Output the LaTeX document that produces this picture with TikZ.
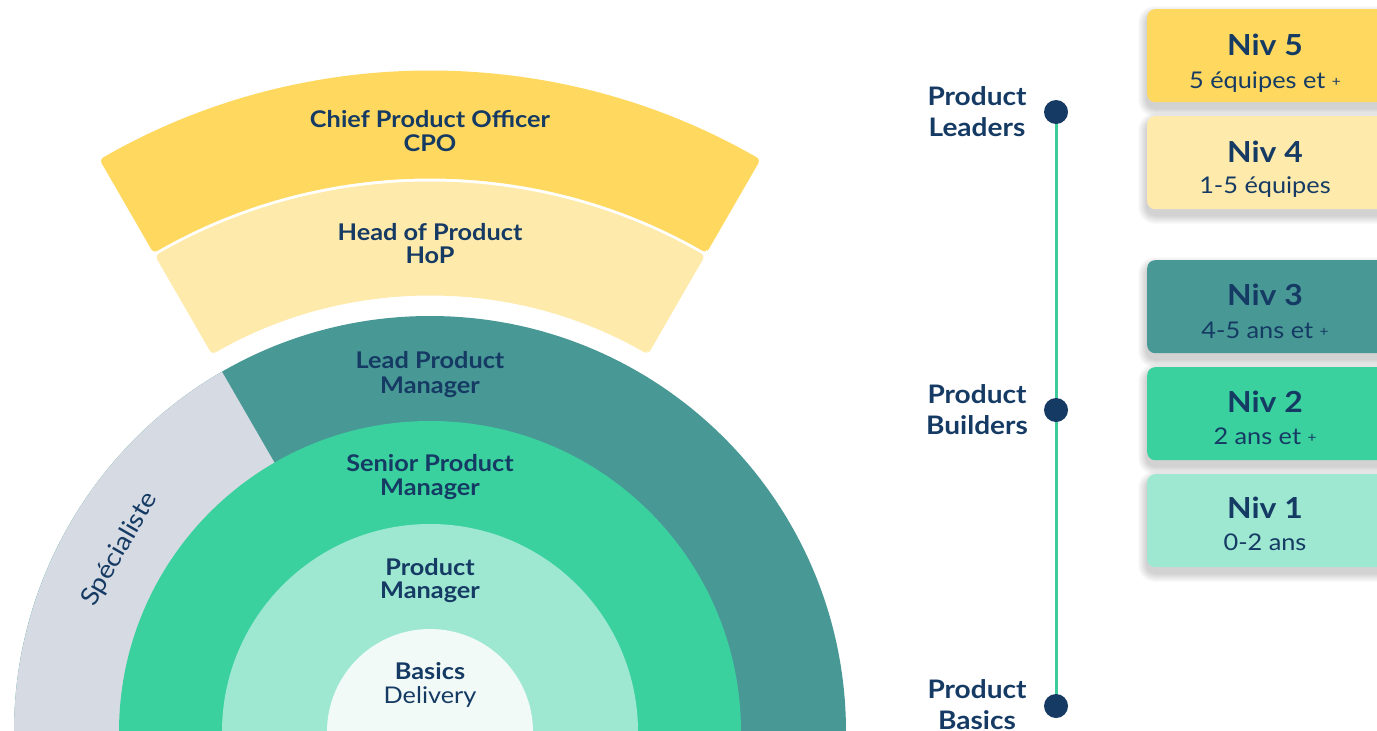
\documentclass[tikz,border=0pt]{standalone}
\usepackage{fontspec}
\setmainfont{Lato}[FakeStretch=1.1]
\definecolor{navy}{HTML}{153A63}
\definecolor{cpo}{HTML}{FFD95F}
\definecolor{hop}{HTML}{FEEAAB}
\definecolor{lead}{HTML}{489896}
\definecolor{senior}{HTML}{3AD19F}
\definecolor{pm}{HTML}{9EE8D2}
\definecolor{basics}{HTML}{F1FAF7}
\definecolor{spec}{HTML}{D6DBE3}
\definecolor{tline}{HTML}{3DCB9B}
\tikzset{
  lbl/.style={text=navy, font=\fontsize{23}{27}\selectfont\bfseries, anchor=base, inner sep=0pt},
  lblreg/.style={text=navy, font=\fontsize{23}{27}\selectfont, anchor=base, inner sep=0pt},
  tl/.style={text=navy, font=\fontsize{25.5}{30}\selectfont\bfseries, anchor=base, inner sep=0pt},
  nivbox/.style={rounded corners=8pt, minimum width=240pt, minimum height=93pt, anchor=north west, inner sep=0pt},
  nivt/.style={text=navy, font=\fontsize{29}{34}\selectfont\bfseries, anchor=base, inner sep=0pt},
  nivs/.style={text=navy, font=\fontsize{23}{27}\selectfont, anchor=base, inner sep=0pt},
  dot/.style={circle, fill=navy, minimum size=24pt, inner sep=0pt},
  shad/.style={fill=black, opacity=0.018}
}
\newcommand{\plussign}{\raisebox{2pt}{\fontsize{14}{14}\selectfont +}}
% soft shadow under a box whose top-left corner is (#1,#2)
\newcommand{\softshadow}[2]{%
  \foreach \i in {1,...,9}{%
    \fill[shad, rounded corners={(8+\i)*1pt}] ({#1-\i},{#2+\i-6}) rectangle ({#1+260+\i},{#2-93-\i-6});
  }}
\begin{document}
\begin{tikzpicture}[x=1pt,y=1pt]
\useasboundingbox (0,0) rectangle (1377,-731);
\clip (0,0) rectangle (1377,-731);
\fill[white] (0,0) rectangle (1377,-731);

% --- concentric diagram ---
\begin{scope}[shift={(430,-732)}]
  \fill[cpo, rounded corners=4pt] (60:553) -- (60:661) arc[start angle=60, end angle=120, radius=661]
     -- (120:553) arc[start angle=120, end angle=60, radius=553] -- cycle;
  \fill[hop, rounded corners=4pt] (60:436) -- (60:550) arc[start angle=60, end angle=120, radius=550]
     -- (120:436) arc[start angle=120, end angle=60, radius=436] -- cycle;
  \fill[lead] (0,0) circle[radius=416];
  \fill[spec] (0,0) -- (120:416) arc[start angle=120, end angle=180, radius=416] -- cycle;
  \fill[senior] (0,0) circle[radius=311];
  \fill[pm] (0,0) circle[radius=208];
  \fill[basics] (0,0) circle[radius=103];
  \node[text=navy, font=\fontsize{25}{29}\selectfont, rotate=60, inner sep=0pt] (spc) at (149.5:360) {Spécialiste};
\end{scope}

\node[lbl] (cpo1) at (430,-127) {Chief Product Officer};
\node[lbl] (cpo2) at (430,-151) {CPO};
\node[lbl] (hop1) at (430,-240) {Head of Product};
\node[lbl] (hop2) at (430,-263) {HoP};
\node[lbl] (lpm1) at (430,-368) {Lead Product};
\node[lbl] (lpm2) at (430,-393) {Manager};
\node[lbl] (spm1) at (430,-471) {Senior Product};
\node[lbl] (spm2) at (430,-495) {Manager};
\node[lbl] (pm1) at (430,-575) {Product};
\node[lbl] (pm2) at (430,-598) {Manager};
\node[lbl] (bas1) at (430,-679) {Basics};
\node[lblreg] (bas2) at (430,-703) {Delivery};

% --- timeline ---
\coordinate (p1) at (1056,-112);
\coordinate (p2) at (1056,-410);
\coordinate (p3) at (1056,-706);
\draw[tline, line width=3pt] (p1) -- (p3);
\node[dot] (d1) at (p1) {};
\node[dot] (d2) at (p2) {};
\node[dot] (d3) at (p3) {};

\node[tl] (t1a) at (977,-105) {Product};
\node[tl] (t1b) at (977,-136) {Leaders};
\node[tl] (t2a) at (977,-403) {Product};
\node[tl] (t2b) at (977,-434) {Builders};
\node[tl] (t3a) at (977,-698) {Product};
\node[tl] (t3b) at (977,-729) {Basics};

% --- level boxes ---
\softshadow{1147}{-9}
\softshadow{1147}{-116}
\softshadow{1147}{-260}
\softshadow{1147}{-367}
\softshadow{1147}{-474}
\node[nivbox, fill=cpo] (b5) at (1147,-9) {};
\node[nivbox, fill=hop] (b4) at (1147,-116) {};
\node[nivbox, fill=lead] (b3) at (1147,-260) {};
\node[nivbox, fill=senior] (b2) at (1147,-367) {};
\node[nivbox, fill=pm] (b1) at (1147,-474) {};

\node[nivt] (n5) at (1265,-55) {Niv 5};
\node[nivs] (s5) at (1265,-88) {5 équipes et \plussign};
\node[nivt] (n4) at (1265,-162) {Niv 4};
\node[nivs] (s4) at (1265,-193) {1-5 équipes};
\node[nivt] (n3) at (1265,-305) {Niv 3};
\node[nivs] (s3) at (1265,-338) {4-5 ans et \plussign};
\node[nivt] (n2) at (1265,-412) {Niv 2};
\node[nivs] (s2) at (1265,-444) {2 ans et \plussign};
\node[nivt] (n1) at (1265,-518) {Niv 1};
\node[nivs] (s1) at (1265,-550) {0-2 ans};
\end{tikzpicture}
\end{document}
